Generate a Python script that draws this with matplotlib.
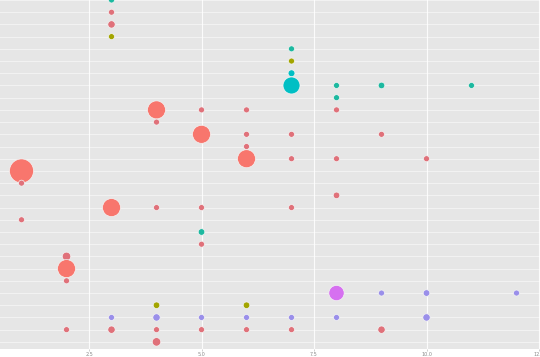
import numpy as np
import matplotlib
matplotlib.use("Agg")
import matplotlib.pyplot as plt

# row index (0 = top), x value, point size (count), group
rows = [0, 1, 2, 3, 4, 5, 6,
        7, 7, 7, 7,
        8,
        9, 9, 9, 9,
        10,
        11, 11, 11, 11,
        12,
        13, 13, 13, 13,
        14, 15, 16,
        17, 17, 17, 17,
        18, 19, 20, 21, 22, 23,
        24, 24, 24, 24,
        25, 25,
        26, 26, 26, 26, 26, 26, 26,
        27, 27, 27, 27, 27, 27, 27,
        28]
xs = [3, 3, 3, 3, 7, 7, 7,
      7, 8, 9, 11,
      8,
      4, 5, 6, 8,
      4,
      5, 6, 7, 9,
      6,
      6, 7, 8, 10,
      1, 1, 8,
      3, 4, 5, 7,
      1, 5, 5, 2, 2, 2,
      8, 9, 10, 12,
      4, 6,
      3, 4, 5, 6, 7, 8, 10,
      2, 3, 4, 5, 6, 7, 9,
      4]
counts = [1, 1, 1.5, 1, 1, 1, 1.3,
          8, 1, 1.2, 1,
          1,
          9, 1, 1, 1,
          1,
          9, 1, 1, 1,
          1,
          9, 1, 1, 1,
          16, 1, 1.2,
          9, 1, 1, 1,
          1, 1.2, 1, 2, 9, 1,
          6.5, 1, 1.2, 1,
          1.2, 1.2,
          1, 1.5, 1, 1, 1, 1, 1.5,
          1, 1.5, 1, 1, 1, 1, 1.5,
          2]
groups = ["g", "r", "r", "o", "g", "o", "c",
          "c", "g", "g", "g",
          "g",
          "r", "r", "r", "r",
          "r",
          "r", "r", "r", "r",
          "r",
          "r", "r", "r", "r",
          "r", "r", "r",
          "r", "r", "r", "r",
          "r", "g", "r", "r", "r", "r",
          "m", "l", "l", "l",
          "o", "o",
          "l", "l", "l", "l", "l", "l", "l",
          "r", "r", "r", "r", "r", "r", "r",
          "r"]
xticks = [2.5, 5.0, 7.5, 10.0, 12.5]
xtick_labels = ["2.5", "5.0", "7.5", "10.0", "12.5"]

palette = {"r": "#F8766D", "o": "#A3A500", "g": "#1DB9A0",
           "c": "#00BFC4", "m": "#D670F0", "l": "#9A8FEA"}
small_red = "#E0717A"

fig = plt.figure(figsize=(5.4, 3.57), dpi=100)
ax = fig.add_axes([0, 1 - 349 / 357, 1, 349 / 357])
ax.set_facecolor("#E6E6E6")

n_rows = 29
for r in range(n_rows):
    ax.axhline(-r, color="white", lw=0.8, alpha=0.5, zorder=1)
for v in xticks:
    ax.axvline(v, color="white", lw=0.8, alpha=0.85, zorder=1)

cols = []
for g, c in zip(groups, counts):
    if g == "r" and c <= 2:
        cols.append(small_red)
    else:
        cols.append(palette[g])
sizes = [18.7 * c for c in counts]
ax.scatter(xs, [-r for r in rows], s=sizes, c=cols,
           edgecolors="#F4F4F4", linewidths=0.5, zorder=3)

ax.set_xlim(0.522, 12.522)
ax.set_ylim(-349 / 12.21, 0)
ax.set_yticks([])
ax.set_xticks(xticks)
ax.set_xticklabels(xtick_labels, fontsize=3.5, color="#8A8A8A")
ax.tick_params(axis="x", length=1.5, width=0.4, color="#AAAAAA", pad=1)
for s in ax.spines.values():
    s.set_visible(False)

fig.savefig("out.png", dpi=100)
